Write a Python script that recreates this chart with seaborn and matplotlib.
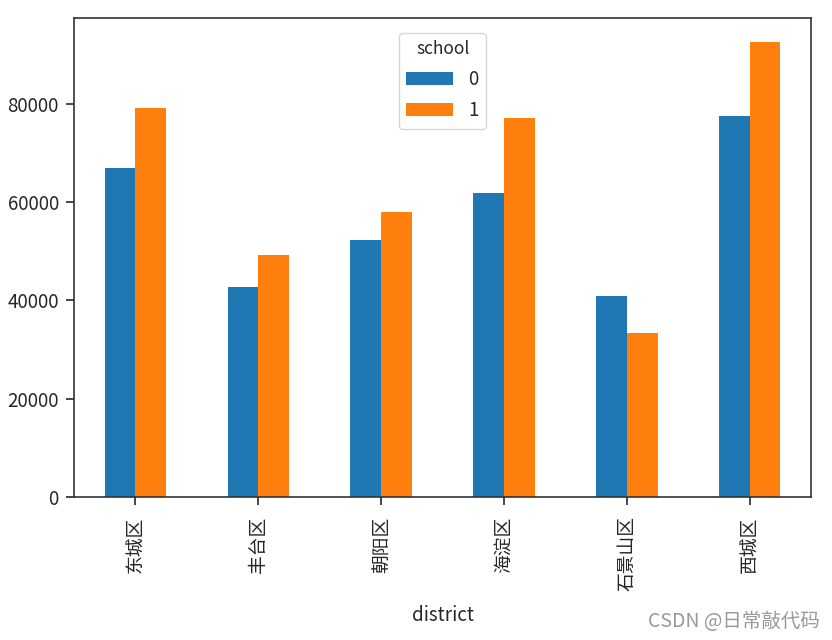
import pandas as pd
import seaborn as sns
import matplotlib.pyplot as plt

# average price per district, split by school flag
districts = ["东城区", "丰台区", "朝阳区", "海淀区", "石景山区", "西城区"]
price_school_0 = [66800, 42600, 52200, 61900, 40800, 77500]
price_school_1 = [79000, 49300, 57900, 77000, 33300, 92600]

df = pd.DataFrame({
    "district": districts * 2,
    "school": ["0"] * len(districts) + ["1"] * len(districts),
    "price": price_school_0 + price_school_1,
})

sns.set_style("ticks")
plt.rcParams["font.family"] = ["Noto Sans CJK SC", "DejaVu Sans"]
plt.rcParams["axes.unicode_minus"] = False

fig = plt.figure(figsize=(8.32, 6.4), dpi=100)
ax = fig.add_axes([0.089, 0.2234, 0.886, 0.7486])

sns.barplot(data=df, x="district", y="price", hue="school",
            order=districts, hue_order=["0", "1"],
            palette=["#1f77b4", "#ff7f0e"], width=0.5, saturation=1,
            linewidth=0, errorbar=None, ax=ax)

ax.set_xlim(-0.5, len(districts) - 0.5)
ax.set_ylim(0, 97400)
ax.set_yticks([0, 20000, 40000, 60000, 80000])
ax.tick_params(axis="both", labelsize=13.5, length=6, width=1.2, pad=5)
ax.tick_params(axis="x", rotation=90, pad=8)
ax.set_ylabel("")
ax.set_xlabel("district", fontsize=13.5, labelpad=10)
for s in ax.spines.values():
    s.set_color("#333333")
    s.set_linewidth(1.2)

leg = ax.legend(title="school", loc="upper center", fontsize=13.5,
                title_fontsize=12.5, handlelength=2.5, labelspacing=0.55,
                borderaxespad=0.8)

fig.text(0.985, 0.012, "CSDN @日常敲代码", ha="right", va="bottom",
         fontsize=14, color="#999999")

fig.savefig("out.png", dpi=100)
